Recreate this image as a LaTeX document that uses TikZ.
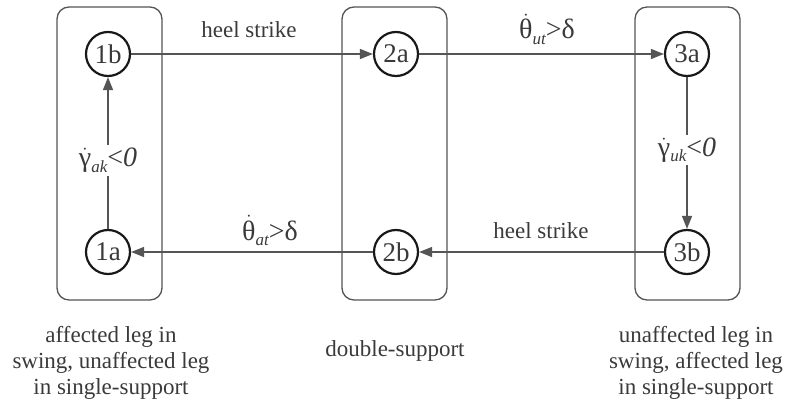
\documentclass[tikz,border=0pt]{standalone}
\usepackage{fontspec}
\setmainfont{Liberation Serif}
\usetikzlibrary{arrows.meta}
\newcommand\mysub[1]{\raisebox{-0.4ex}{\fontsize{17}{17}\selectfont\itshape #1}}
\newcommand\mydot[1]{\(\dot{\hbox{#1}}\)}
\definecolor{lc}{HTML}{555555}
\definecolor{tc}{HTML}{3A3A3A}
\begin{document}
\begin{tikzpicture}[x=1pt,y=-1pt,
  state/.style={circle,draw=black!90,line width=2.2pt,minimum size=44pt,inner sep=0pt,text=tc,font=\fontsize{27}{28}\selectfont},
  group/.style={draw=lc,line width=1.3pt,rounded corners=12pt,minimum width=105pt,minimum height=293pt,inner sep=0pt},
  conn/.style={draw=lc,line width=1.4pt,-{Triangle[length=13pt,width=10pt]}},
  lbl/.style={text=tc,font=\fontsize{23}{26}\selectfont,inner sep=0pt},
  mlbl/.style={text=tc,font=\fontsize{28}{30}\selectfont,inner sep=0pt},
  vlbl/.style={text=tc,font=\fontsize{28}{30}\selectfont,fill=white,inner sep=3pt},
  desc/.style={text=tc,font=\fontsize{23}{26}\selectfont,align=center,inner sep=0pt}]
\useasboundingbox (0,0) rectangle (787,404);
\node[group] (g1) at (109.5,153.5) {};
\node[group] (g2) at (394.5,153.5) {};
\node[group] (g3) at (687.5,153.5) {};
\node[state] (s1b) at (108,54) {1b};
\node[state] (s1a) at (108,252) {1a};
\node[state] (s2a) at (396,54) {2a};
\node[state] (s2b) at (396,252) {2b};
\node[state] (s3a) at (687,54) {3a};
\node[state] (s3b) at (687,252) {3b};
\draw[conn] (s1b) -- (s2a);
\draw[conn] (s2a) -- (s3a);
\draw[conn] (s3a) -- node[vlbl,pos=0.48] (l3) {\mydot{γ}\mysub{uk}<\textit{0}} (s3b);
\draw[conn] (s3b) -- (s2b);
\draw[conn] (s2b) -- (s1a);
\draw[conn] (s1a) -- node[vlbl,pos=0.45] (l1) {\mydot{γ}\mysub{ak}<\textit{0}} (s1b);
\node[lbl,anchor=base] (t1) at (249,38) {heel strike};
\node[mlbl,anchor=base] (t2) at (547,39) {\mydot{θ}\mysub{ut}>δ};
\node[mlbl,anchor=base] (t3) at (270,240) {\mydot{θ}\mysub{at}>δ};
\node[lbl,anchor=base] (t4) at (541,238) {heel strike};
\node[desc] (d1) at (111,363) {affected leg in\\swing, unaffected leg\\in single-support};
\node[desc,anchor=base] (d2) at (395,356) {double-support};
\node[desc] (d3) at (696,363) {unaffected leg in\\swing, affected leg\\in single-support};
\end{tikzpicture}
\end{document}
